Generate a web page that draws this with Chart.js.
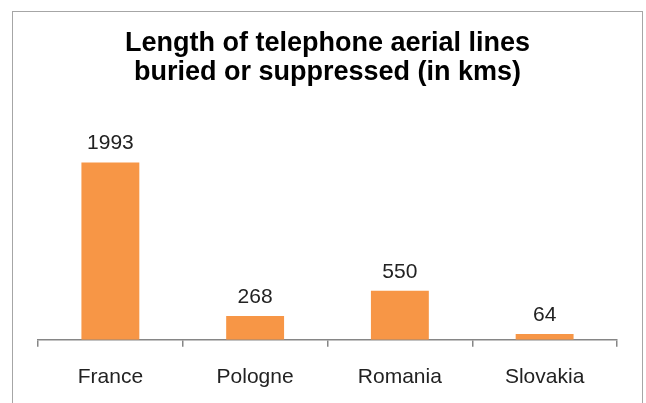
<!DOCTYPE html>
<html>
<head>
<meta charset="utf-8">
<script src="https://cdn.jsdelivr.net/npm/chart.js@4/dist/chart.umd.min.js"></script>
<style>
  body { margin: 0; background: #fff; }
  #frame { position: absolute; left: 12px; top: 11px; width: 629px; height: 430px; border: 1px solid #a6a6a6; }
  #wrap { position: absolute; left: 0; top: 0; width: 646px; height: 403px; }
</style>
</head>
<body>
<div id="frame"></div>
<div id="wrap"><canvas id="lineChart"></canvas></div>
<script>
// data
const countries = ['France', 'Pologne', 'Romania', 'Slovakia'];
const kmsBuried = [1993, 268, 550, 64];
const titleLines = ['Length of telephone aerial lines', 'buried or suppressed (in kms)'];
const yMin = 0, yMax = 2500;

const barColor = '#F79646';
const fontFam = '"Liberation Sans", Arial, sans-serif';

// value labels above the bars
const valueLabels = {
  id: 'valueLabels',
  afterDatasetsDraw(chart) {
    const ctx = chart.ctx;
    const meta = chart.getDatasetMeta(0);
    ctx.save();
    ctx.font = '21px ' + fontFam;
    ctx.fillStyle = '#222';
    ctx.textAlign = 'center';
    ctx.textBaseline = 'alphabetic';
    meta.data.forEach((bar, i) => {
      ctx.fillText(String(kmsBuried[i]), bar.x, bar.y - 13);
    });
    ctx.restore();
  }
};

const ctx = document.getElementById('lineChart');
new Chart(ctx, {
  type: 'bar',
  data: {
    labels: countries,
    datasets: [{
      data: kmsBuried,
      backgroundColor: barColor,
      borderWidth: 0,
      barPercentage: 0.4,
      categoryPercentage: 1
    }]
  },
  options: {
    responsive: true,
    maintainAspectRatio: false,
    animation: false,
    layout: { padding: { left: 38, right: 29, top: 29, bottom: -5 } },
    plugins: {
      legend: { display: false },
      tooltip: { enabled: false },
      title: {
        display: true,
        text: titleLines,
        color: '#000',
        font: { family: fontFam, size: 27, weight: 'bold', lineHeight: 1.08 },
        padding: { top: 0, bottom: 30 }
      }
    },
    scales: {
      y: { display: false, min: yMin, max: yMax },
      x: {
        offset: true,
        border: { display: true, color: '#868686', width: 1.5 },
        grid: { display: true, drawOnChartArea: false, drawTicks: true, tickLength: 7, color: '#868686', lineWidth: 1.5, offset: true },
        ticks: {
          color: '#222',
          padding: 18,
          font: { family: fontFam, size: 21 }
        }
      }
    }
  },
  plugins: [valueLabels]
});
</script>
</body>
</html>
